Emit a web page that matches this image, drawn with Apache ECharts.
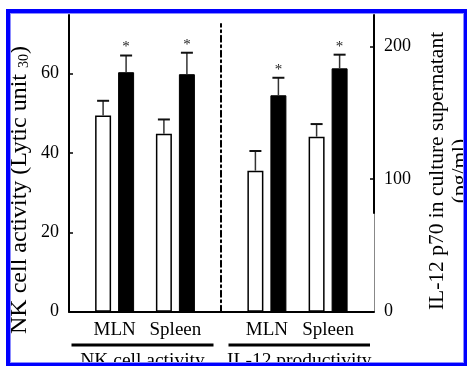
<!DOCTYPE html>
<html>
<head>
<meta charset="utf-8">
<script src="https://cdn.jsdelivr.net/npm/echarts@6/dist/echarts.min.js"></script>
<style>
    html, body { margin: 0; padding: 0; background: #fff; }
    #wrap { position: relative; width: 467px; height: 366px; overflow: hidden; }
    #chart { width: 467px; height: 366px; }
    #frame {
        position: absolute; left: 6px; top: 9px; width: 461px; height: 357px;
        box-sizing: border-box; border-style: solid; border-color: #0000ff;
        border-width: 4px 3px 3px 4px; box-shadow: inset 0 0 0 1px #8c8cff;
        pointer-events: none;
    }
</style>
</head>
<body>
<div id="wrap">
    <div id="chart"></div>
    <div id="frame"></div>
</div>
<script>
// 数据
var groups = ['MLN', 'Spleen'];
var nkControl = [49.4, 44.8];
var nkControlErr = [3.7, 3.6];
var nkTreated = [60.3, 59.8];
var nkTreatedErr = [4.2, 5.4];
var ilControl = [106.3, 131.9];
var ilControlErr = [14.8, 9.5];
var ilTreated = [163.1, 183.4];
var ilTreatedErr = [13.2, 10.3];
var nkTicks = [0, 20, 40, 60];
var ilTicks = [0, 100, 200];
// 每个面板 5 个槽位, 组放在 1 和 3
var slots = ['', groups[0], '', groups[1], ''];
var slotIndex = [1, 3];

var serif = 'Liberation Serif';
var barW = 16, barGapPx = 7;
var shift = (barW + barGapPx) / 2;

function barData(values) {
    return slots.map(function (s, i) {
        var k = slotIndex.indexOf(i);
        return k < 0 ? '-' : values[k];
    });
}
function errData(values, errs) {
    return slotIndex.map(function (s, i) {
        return [s, values[i], errs[i]];
    });
}
function errorBar(offset, star) {
    return function (params, api) {
        var top = api.coord([api.value(0), api.value(1)]);
        var cap = api.coord([api.value(0), api.value(1) + api.value(2)]);
        var x = top[0] + offset;
        var children = [
            {type: 'line', shape: {x1: x, y1: top[1], x2: x, y2: cap[1]}, style: {stroke: '#333', lineWidth: 1.5}},
            {type: 'line', shape: {x1: x - 6, y1: cap[1], x2: x + 6, y2: cap[1]}, style: {stroke: '#111', lineWidth: 2}}
        ];
        if (star) {
            children.push({
                type: 'text', x: x, y: cap[1] - 8,
                style: {text: '*', fill: '#222', font: '15px "Liberation Serif"', textAlign: 'center', textVerticalAlign: 'middle'}
            });
        }
        return {type: 'group', children: children};
    };
}

var chart = echarts.init(document.getElementById('chart'));

var catAxis = function (grid) {
    return {
        gridIndex: grid, type: 'category', data: slots,
        axisTick: {show: false},
        axisLine: {lineStyle: {color: '#000', width: 2}},
        axisLabel: {interval: 0, margin: 9, color: '#000', fontSize: 19, fontFamily: serif}
    };
};
var valAxis = function (grid, pos, max, ticks, lineColor, lineWidth) {
    return {
        gridIndex: grid, type: 'value', position: pos, min: 0, max: max,
        axisLine: {show: true, onZero: false, lineStyle: {color: lineColor, width: lineWidth}},
        axisTick: {show: true, inside: true, length: 4, customValues: ticks, lineStyle: {color: '#000', width: 1.5}},
        axisLabel: {customValues: ticks, margin: 10, color: '#000', fontSize: 18, fontFamily: serif},
        splitLine: {show: false}
    };
};
var plainAxis = function (grid, lineStyle) {
    return {
        gridIndex: grid, type: 'value', position: 'right',
        axisLine: {show: true, onZero: false, lineStyle: lineStyle},
        axisTick: {show: false}, axisLabel: {show: false}, splitLine: {show: false}
    };
};

var option = {
    animation: false,
    grid: [
        {left: 69, width: 152, top: 15, bottom: 54.3},
        {left: 221, right: 93, top: 15, bottom: 54.3},
        {left: 69, width: 152, top: 24, bottom: 54.3},
        {left: 221, right: 93, top: 15, bottom: 153}
    ],
    xAxis: [
        catAxis(0),
        catAxis(1),
        {gridIndex: 2, type: 'value', show: false},
        {gridIndex: 3, type: 'value', show: false}
    ],
    yAxis: [
        valAxis(0, 'left', 74.7, nkTicks, '#000', 2),
        valAxis(1, 'right', 223.6, ilTicks, '#888', 1),
        plainAxis(2, {color: '#000', width: 2, type: [6, 3.5, 2, 3.5]}),
        plainAxis(3, {color: '#000', width: 2})
    ],
    series: [
        {type: 'bar', xAxisIndex: 0, yAxisIndex: 0, data: barData(nkControl), barWidth: barW, barGap: (barGapPx / barW * 100) + '%',
            itemStyle: {color: '#fff', borderColor: '#000', borderWidth: 1.5}},
        {type: 'bar', xAxisIndex: 0, yAxisIndex: 0, data: barData(nkTreated), barWidth: barW, barGap: (barGapPx / barW * 100) + '%',
            itemStyle: {color: '#000', borderColor: '#000', borderWidth: 1}},
        {type: 'bar', xAxisIndex: 1, yAxisIndex: 1, data: barData(ilControl), barWidth: barW, barGap: (barGapPx / barW * 100) + '%',
            itemStyle: {color: '#fff', borderColor: '#000', borderWidth: 1.5}},
        {type: 'bar', xAxisIndex: 1, yAxisIndex: 1, data: barData(ilTreated), barWidth: barW, barGap: (barGapPx / barW * 100) + '%',
            itemStyle: {color: '#000', borderColor: '#000', borderWidth: 1}},
        {type: 'custom', xAxisIndex: 0, yAxisIndex: 0, z: 3, renderItem: errorBar(-shift, false), data: errData(nkControl, nkControlErr)},
        {type: 'custom', xAxisIndex: 0, yAxisIndex: 0, z: 3, renderItem: errorBar(shift, true), data: errData(nkTreated, nkTreatedErr)},
        {type: 'custom', xAxisIndex: 1, yAxisIndex: 1, z: 3, renderItem: errorBar(-shift, false), data: errData(ilControl, ilControlErr)},
        {type: 'custom', xAxisIndex: 1, yAxisIndex: 1, z: 3, renderItem: errorBar(shift, true), data: errData(ilTreated, ilTreatedErr)}
    ],
    graphic: [
        {type: 'text', x: 19.5, y: 190, rotation: Math.PI / 2,
            style: {text: '{m|NK cell activity (Lytic unit }{s|30}{m|)}', textAlign: 'center', textVerticalAlign: 'middle',
                rich: {m: {fontSize: 24, fontFamily: serif, fill: '#000'}, s: {fontSize: 14, fontFamily: serif, fill: '#000', verticalAlign: 'bottom'}}}},
        {type: 'text', x: 448.5, y: 171, rotation: Math.PI / 2,
            style: {text: 'IL-12 p70 in culture supernatant\n(pg/ml)', font: '21.5px "Liberation Serif"', fill: '#000',
                textAlign: 'center', textVerticalAlign: 'middle', lineHeight: 23}},
        {type: 'line', shape: {x1: 71.5, y1: 345, x2: 213.5, y2: 345}, style: {stroke: '#000', lineWidth: 3}},
        {type: 'line', shape: {x1: 228.5, y1: 345, x2: 370, y2: 345}, style: {stroke: '#000', lineWidth: 3}},
        {type: 'text', x: 142.5, y: 351, style: {text: 'NK cell activity', font: '19.5px "Liberation Serif"', fill: '#000', textAlign: 'center', textVerticalAlign: 'top'}},
        {type: 'text', x: 299.3, y: 351, style: {text: 'IL-12 productivity', font: '19.5px "Liberation Serif"', fill: '#000', textAlign: 'center', textVerticalAlign: 'top'}}
    ]
};
chart.setOption(option);
</script>
</body>
</html>
